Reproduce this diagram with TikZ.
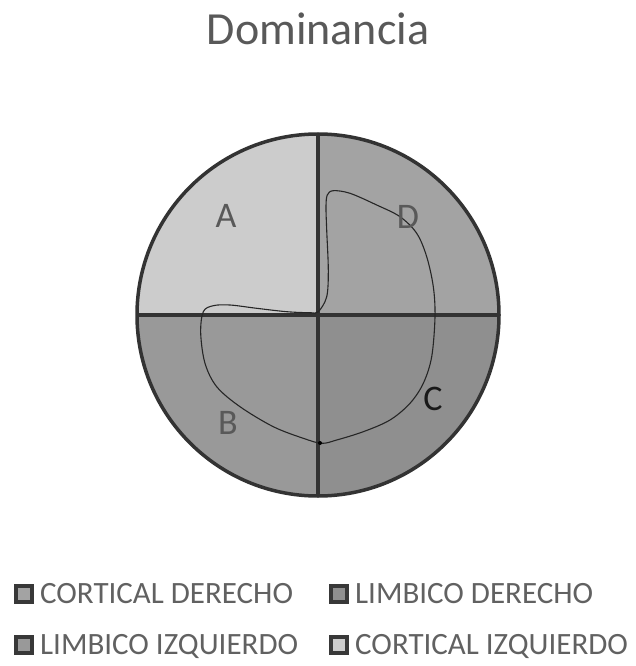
\documentclass[tikz,border=0pt]{standalone}
\usepackage{fontspec}
\setmainfont{Carlito}
\usetikzlibrary{calc,positioning}

\begin{document}
\begin{tikzpicture}[x=1pt,y=-1pt,
  quad lines/.style={line width=3.5pt,draw=black!80},
  letter/.style={font=\fontsize{36}{38}\selectfont,text=black!65,inner sep=0pt},
  swatch/.style={draw=black!78,line width=4pt,minimum size=16pt,inner sep=0pt},
  entry/.style={font=\fontsize{31}{33}\selectfont,text=black!62,anchor=base west,inner sep=0pt}]
\colorlet{corizq}{black!20} \colorlet{corder}{black!36}
\colorlet{limder}{black!44} \colorlet{limizq}{black!40}
\useasboundingbox (0,0) rectangle (636,666);
\coordinate (O) at (318,315);
\def\R{181}
% quadrants
\begin{scope}
\clip (O) circle (\R);
\fill [corizq] (O) rectangle ++(-\R,-\R);
\fill [corder] (O) rectangle ++(\R,-\R);
\fill [limder] (O) rectangle ++(\R,\R);
\fill [limizq] (O) rectangle ++(-\R,\R);
\end{scope}
\draw [quad lines] (O) circle (\R);
\draw [quad lines] ($ (O)+(-\R,0) $) -- ($ (O)+(\R,0) $);
\draw [quad lines] ($ (O)+(0,-\R) $) -- ($ (O)+(0,\R) $);
% profile
\draw [line width=1.1pt,black!85] plot [smooth cycle,tension=0.55] coordinates {
  (318.3,311.7) (326.7,296.7) (328.3,270) (326.7,230) (326,206.7) (327.3,195)
  (333.3,190.7) (350,193.3) (376.7,205) (400,216.7) (416.7,233.3) (426.7,256.7)
  (433.3,286.7) (435,316.7) (431.7,356.7) (423.3,383.3) (410,403.3) (390,420)
  (363.3,431.7) (336.7,440) (321.7,443.3) (303.3,438.3) (273.3,426.7) (240,406.7)
  (216.7,386.7) (205,363.3) (200.7,333.3) (203.3,311.7) (213.3,305.7) (230,305)
  (256.7,308.3) (286.7,311.7) (310,312.7)};
\fill [black] (320,443) circle (2pt);
% letters
\node [letter] (A) at (226,216) {A};
\node [letter] (D) at (408,217) {D};
\node [letter,text=black!90] (C) at (433,399) {C};
\node [letter] (B) at (228,423) {B};
% title
\node [font=\fontsize{46}{48}\selectfont,text=black!65,anchor=base] (title) at (318,45) {Dominancia};
% legend
\node [swatch,fill=corder] (s1) at (24,594) {};
\node [entry] (cd) at (40,603) {CORTICAL DERECHO};
\node [swatch,fill=limder] (s2) at (339,594) {};
\node [entry] (ld) at (355,603) {LIMBICO DERECHO};
\node [swatch,fill=limizq] (s3) at (24,645) {};
\node [entry] (li) at (40,654) {LIMBICO IZQUIERDO};
\node [swatch,fill=corizq] (s4) at (339,645) {};
\node [entry] (ci) at (355,654) {CORTICAL IZQUIERDO};
\end{tikzpicture}
\end{document}
